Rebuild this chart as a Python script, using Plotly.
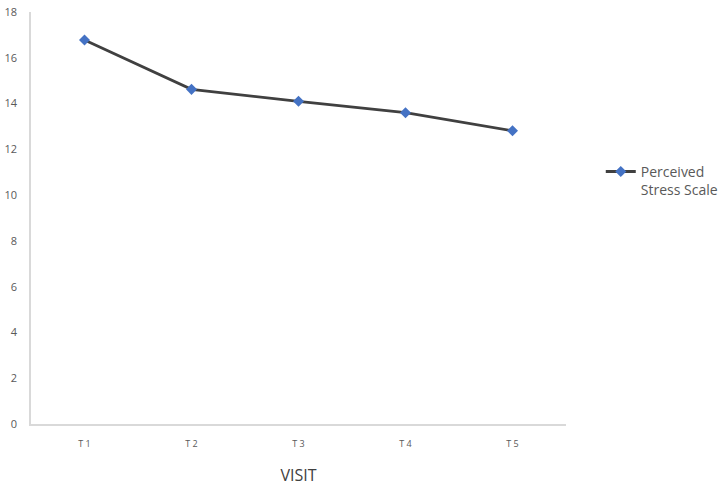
import plotly.graph_objects as go

visits = ["T 1", "T 2", "T 3", "T 4", "T 5"]
pss = [16.78, 14.62, 14.1, 13.6, 12.81]
y_ticks = [0, 2, 4, 6, 8, 10, 12, 14, 16, 18]

fig = go.Figure()
fig.add_trace(go.Scatter(
    x=visits, y=pss, mode="lines+markers",
    name="Perceived<br>Stress Scale",
    line=dict(color="#404040", width=2.8),
    marker=dict(symbol="diamond", size=8.5, color="#4472C4"),
))

fig.update_layout(
    width=722, height=486,
    margin=dict(l=31, r=156, t=12, b=62, autoexpand=False),
    paper_bgcolor="white", plot_bgcolor="white",
    font=dict(family="Open Sans, Liberation Sans, sans-serif", color="#595959", size=12),
    showlegend=True,
    legend=dict(x=1.065, y=0.59, xanchor="left", yanchor="middle", valign="top",
                font=dict(size=14, color="#595959"), bgcolor="rgba(0,0,0,0)"),
    xaxis=dict(type="category", range=[-0.5, 4.5], showgrid=False, automargin=False,
               showline=True, linecolor="#d9d9d9", linewidth=1.5,
               ticks="", tickfont=dict(size=9, color="#595959"), ticklabelstandoff=10,
               title=dict(text="VISIT", font=dict(size=16, color="#404040"), standoff=32)),
    yaxis=dict(range=[0, 18], tickvals=y_ticks, showgrid=False, automargin=False,
               showline=True, linecolor="#d9d9d9", linewidth=1.5,
               ticks="", zeroline=False, tickfont=dict(size=11, color="#595959"),
               ticklabelstandoff=10),
)

fig.write_html("out.html", config={"displayModeBar": False},
               post_script="document.body.style.margin='0';")
